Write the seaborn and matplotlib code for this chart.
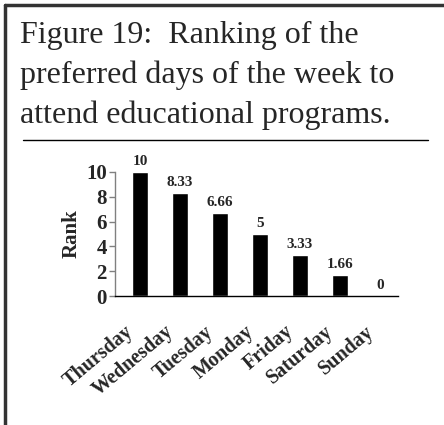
import pandas as pd
import numpy as np
import matplotlib
matplotlib.use('Agg')
import matplotlib.pyplot as plt
import matplotlib.transforms as mtransforms
import seaborn as sns
from matplotlib.lines import Line2D

# data
days = ['Thursday', 'Wednesday', 'Tuesday', 'Monday', 'Friday', 'Saturday', 'Sunday']
rank = [10, 8.33, 6.66, 5, 3.33, 1.66, 0]
rank_labels = ['10', '8.33', '6.66', '5', '3.33', '1.66', '0']
y_ticks = [0, 2, 4, 6, 8, 10]

title_lines = ['Figure 19:  Ranking of the',
               'preferred days of the week to',
               'attend educational programs.']

sns.set_style('white')
plt.rcParams['font.family'] = ['Liberation Serif', 'DejaVu Serif']

df = pd.DataFrame({'day': days, 'rank': rank})

W, H = 444, 425
fig = plt.figure(figsize=(W / 100, H / 100), dpi=100)

# frame of the figure box (top and left only)
fig.add_artist(Line2D([5 / W, 1], [1 - 5 / H, 1 - 5 / H], color='#333333', lw=2.5))
fig.add_artist(Line2D([5 / W, 5 / W], [0, 1 - 5 / H], color='#333333', lw=2.5))

# caption
for i, line in enumerate(title_lines):
    fig.text(20 / W, 1 - (43 + 40 * i) / H, line, fontsize=23, va='baseline', ha='left')

# separator under caption
fig.add_artist(Line2D([23 / W, 428 / W], [1 - 140 / H, 1 - 140 / H], color='black', lw=1))

ax = fig.add_axes([115 / W, 1 - 296 / H, (398 - 115) / W, (296 - 172) / H])
sns.barplot(data=df, x='day', y='rank', color='black', width=0.4, ax=ax, saturation=1)

for i, (v, lab) in enumerate(zip(rank, rank_labels)):
    ax.annotate(lab, (i, v), xytext=(0, 3), textcoords='offset points',
                ha='center', va='bottom', fontsize=11, fontweight='bold')

ax.set_xlim(-0.625, 6.45)
ax.set_ylim(0, 10)
ax.set_yticks(y_ticks)
ax.set_yticklabels([str(t) for t in y_ticks], fontsize=15, fontweight='bold')
ax.set_xticks(range(len(days)))
ax.set_xticklabels(days, rotation=40, ha='right', va='center', rotation_mode='anchor',
                   fontsize=14.5, fontweight='bold')
ax.tick_params(axis='x', length=0, pad=24)
ax.tick_params(axis='y', length=4, width=1, color='gray', direction='out', left=True, pad=2)

# nudge the day labels a bit left, like the original
shift = mtransforms.ScaledTranslation(-0.09, 0, fig.dpi_scale_trans)
for t in ax.get_xticklabels():
    t.set_transform(t.get_transform() + shift)

ax.set_xlabel('')
ax.set_ylabel('Rank', fontsize=15, fontweight='bold')
ax.yaxis.set_label_coords(-0.117, 0.5)

for s in ['top', 'right']:
    ax.spines[s].set_visible(False)
ax.spines['left'].set_color('gray')
ax.spines['bottom'].set_color('black')
ax.spines['left'].set_linewidth(1)
ax.spines['bottom'].set_linewidth(1)

fig.savefig('out.png', dpi=100)
